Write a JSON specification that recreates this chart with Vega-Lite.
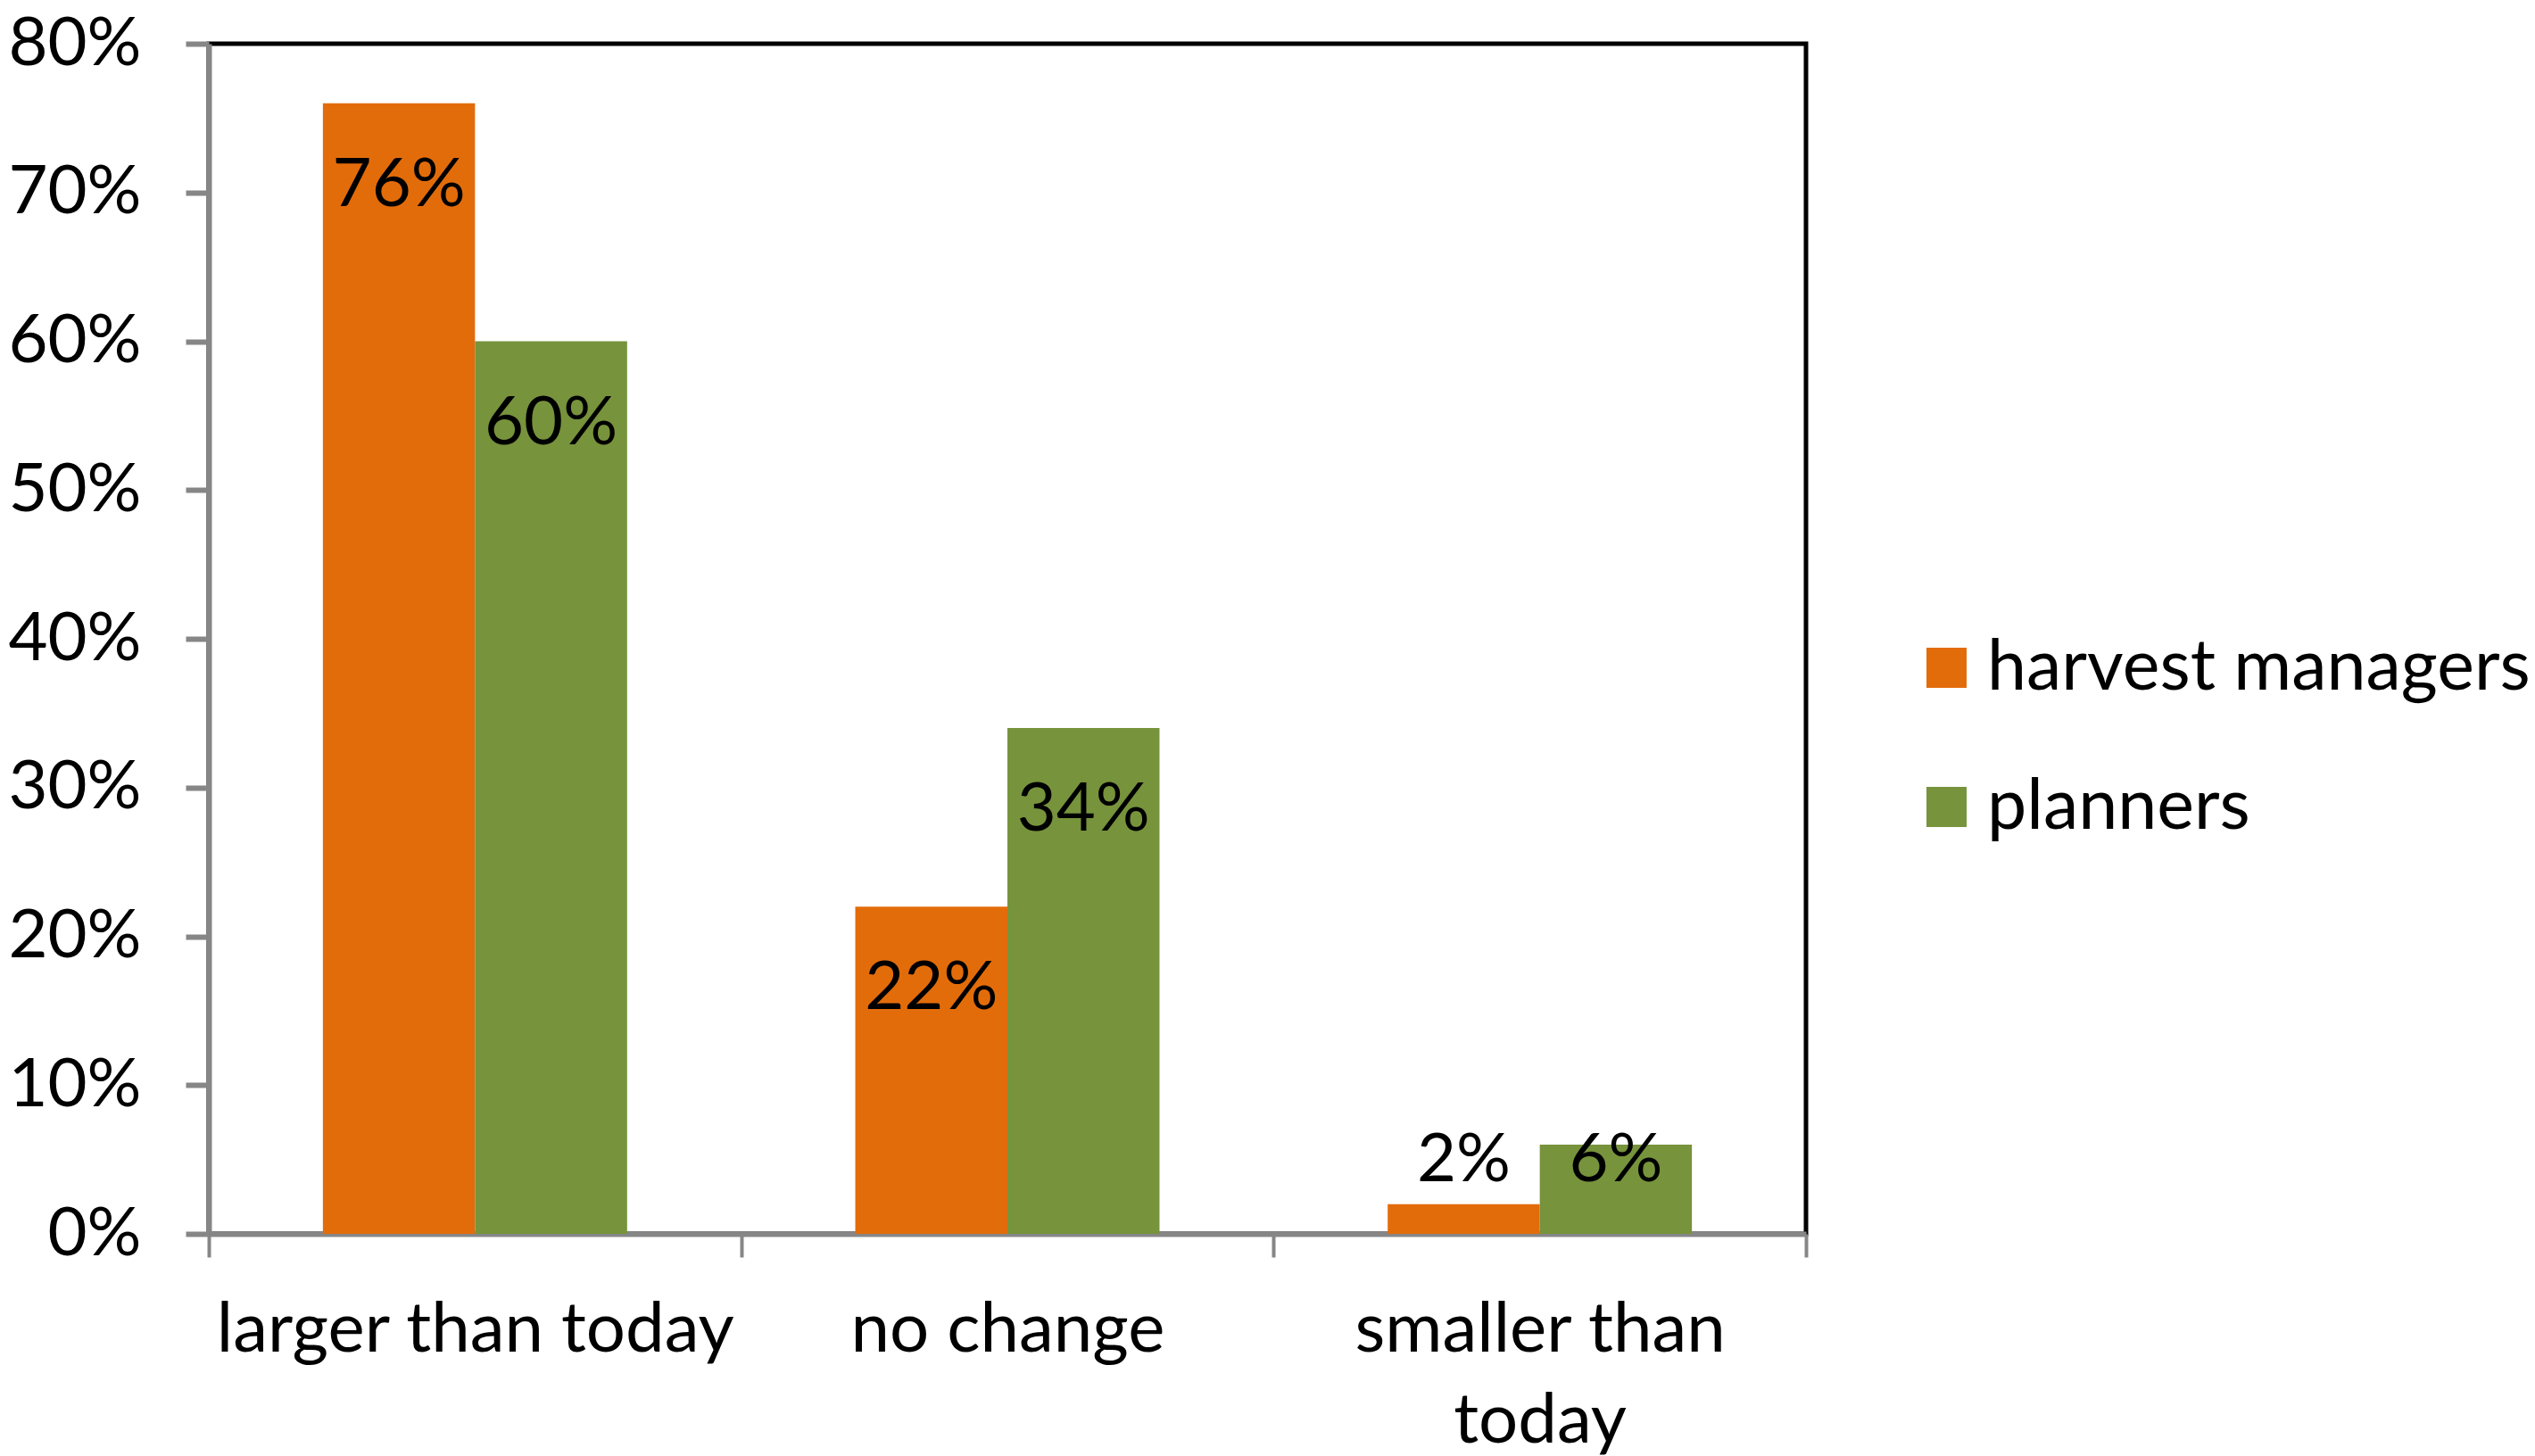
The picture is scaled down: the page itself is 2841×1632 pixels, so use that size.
{
  "$schema": "https://vega.github.io/schema/vega-lite/v6.json",
  "width": 1790,
  "height": 1334,
  "autosize": {"type": "none"},
  "padding": {"left": 234, "top": 49, "right": 817, "bottom": 249},
  "background": "white",
  "data": {"values": [
    {"cat": "larger than today", "group": "harvest managers", "value": 0.76},
    {"cat": "larger than today", "group": "planners", "value": 0.60},
    {"cat": "no change", "group": "harvest managers", "value": 0.22},
    {"cat": "no change", "group": "planners", "value": 0.34},
    {"cat": "smaller than today", "group": "harvest managers", "value": 0.02},
    {"cat": "smaller than today", "group": "planners", "value": 0.06}
  ]},
  "config": {"view": {"stroke": "black", "strokeWidth": 5}, "font": "Lato"},
  "encoding": {
    "x": {
      "field": "cat", "type": "nominal", "sort": null,
      "scale": {"paddingInner": 0, "paddingOuter": 0},
      "axis": {
        "title": null, "labelAngle": 0, "labelFontSize": 78, "labelColor": "black",
        "labelFont": "Lato", "domainColor": "#868686", "domainWidth": 6,
        "tickColor": "#868686", "tickWidth": 4, "tickSize": 26, "tickBand": "extent",
        "labelPadding": 43, "labelLineHeight": 102, "labelLimit": 1000,
        "labelExpr": "datum.label == 'smaller than today' ? ['smaller than', 'today'] : datum.label"
      }
    },
    "y": {
      "field": "value", "type": "quantitative",
      "scale": {"domain": [0, 0.8], "nice": false},
      "axis": {
        "title": null, "format": ".0%", "values": [0, 0.1, 0.2, 0.3, 0.4, 0.5, 0.6, 0.7, 0.8],
        "labelFontSize": 76, "labelColor": "black", "labelFont": "Lato",
        "domainColor": "#868686", "domainWidth": 6, "tickColor": "#868686",
        "tickWidth": 6, "tickSize": 26, "labelPadding": 50, "grid": false
      }
    },
    "xOffset": {"field": "group", "type": "nominal", "scale": {"paddingInner": 0, "paddingOuter": 0.75}}
  },
  "layer": [
    {
      "mark": {"type": "bar"},
      "encoding": {
        "color": {
          "field": "group", "type": "nominal",
          "scale": {"domain": ["harvest managers", "planners"], "range": ["#E36C0A", "#77933C"]},
          "legend": {
            "title": null, "orient": "none", "legendX": 1908, "legendY": 660,
            "symbolType": "square", "symbolSize": 2025, "symbolStrokeWidth": 0,
            "labelFontSize": 79, "labelFont": "Lato", "labelColor": "black",
            "labelOffset": 6, "rowPadding": 76, "labelLimit": 1000
          }
        }
      }
    },
    {
      "transform": [{"filter": "datum.value >= 0.1"}],
      "mark": {"type": "text", "fontSize": 76, "font": "Lato", "color": "black", "baseline": "middle", "dy": 92},
      "encoding": {"text": {"field": "value", "type": "quantitative", "format": ".0%"}}
    },
    {
      "transform": [{"filter": "datum.value < 0.04"}],
      "mark": {"type": "text", "fontSize": 76, "font": "Lato", "color": "black", "baseline": "middle", "dy": -49},
      "encoding": {"text": {"field": "value", "type": "quantitative", "format": ".0%"}}
    },
    {
      "transform": [{"filter": "datum.value >= 0.04 && datum.value < 0.1"}],
      "mark": {"type": "text", "fontSize": 76, "font": "Lato", "color": "black", "baseline": "middle", "dy": 18},
      "encoding": {"text": {"field": "value", "type": "quantitative", "format": ".0%"}}
    }
  ]
}
